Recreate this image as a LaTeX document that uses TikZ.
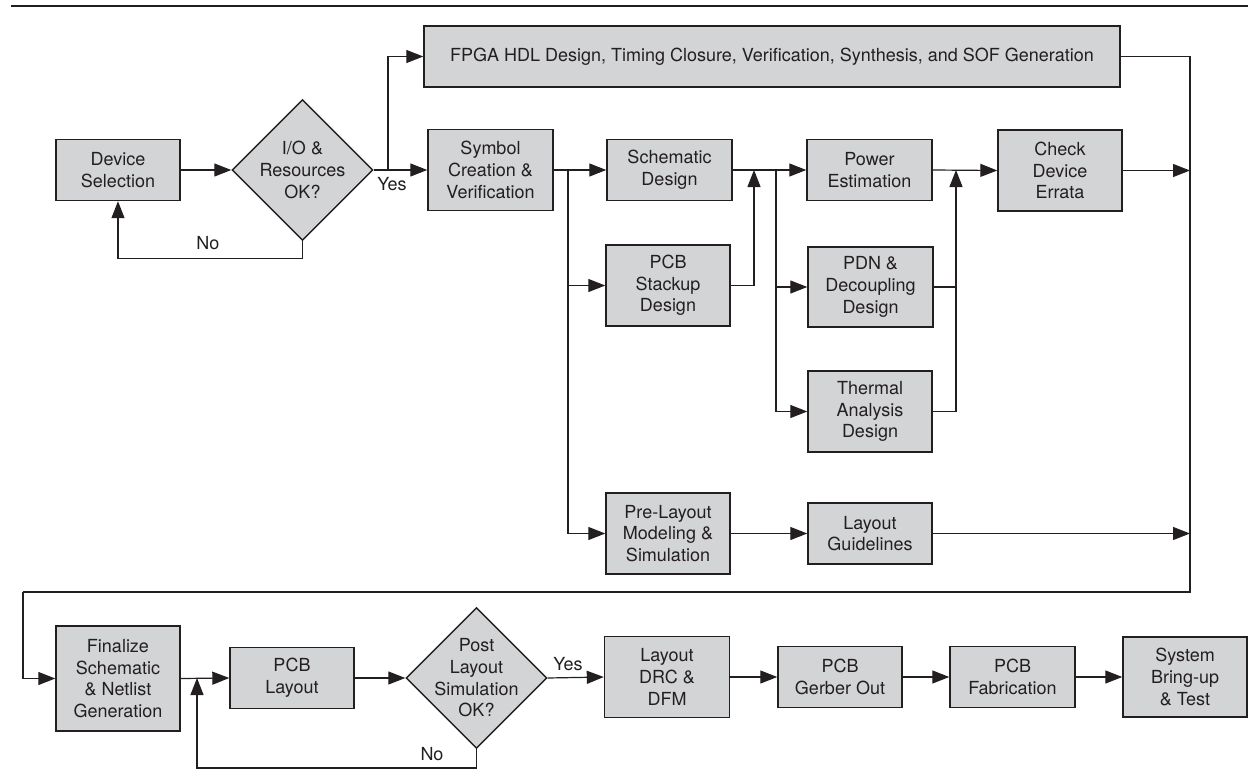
\documentclass[tikz,border=0pt]{standalone}
\usepackage{fontspec}
\setmainfont{TeX Gyre Heros}
\usetikzlibrary{arrows.meta,shapes.geometric}
\definecolor{boxfill}{RGB}{211,212,214}
\definecolor{ink}{RGB}{35,31,32}
\begin{document}
\begin{tikzpicture}[x=1pt,y=-1pt,
  txt/.style={font=\fontsize{18}{21.7}\selectfont, text=ink, align=center},
  box/.style={txt, draw=ink, fill=boxfill, line width=1.4pt, inner sep=0pt},
  dia/.style={diamond, draw=ink, fill=boxfill, line width=1.4pt, inner sep=0pt,
              minimum width=141pt, minimum height=141pt},
  conn/.style={draw=ink, line width=1.2pt},
  arr/.style={conn, -{Triangle[length=17pt,width=13pt]}},
  lbl/.style={txt, inner sep=0pt}]
\useasboundingbox (0,0) rectangle (1248,779);
\draw[ink, line width=2.5pt] (11,6) -- (1248,6);

% top section
\node[box, minimum width=124pt, minimum height=61pt] (dev) at (118,170) {Device\\Selection};
\node[dia, label={[txt]center:I/O \&\\Resources\\OK?}] (d1) at (302.5,170) {};
\node[box, minimum width=696pt, minimum height=61pt] (fpga) at (772,56.5)
  {FPGA HDL Design, Timing Closure, Verification, Synthesis, and SOF Generation};
\node[box, minimum width=125pt, minimum height=81pt] (sym) at (490.5,170) {Symbol\\Creation \&\\Verification};
\node[box, minimum width=125pt, minimum height=61pt] (sch) at (669.5,170) {Schematic\\Design};
\node[box, minimum width=124pt, minimum height=81pt] (stk) at (668,285.5) {PCB\\Stackup\\Design};
\node[box, minimum width=124pt, minimum height=81pt] (pre) at (668,533.5) {Pre-Layout\\Modeling \&\\Simulation};
\node[box, minimum width=125pt, minimum height=61pt] (pow) at (869.5,170) {Power\\Estimation};
\node[box, minimum width=125pt, minimum height=80pt] (pdn) at (870.5,287) {PDN \&\\Decoupling\\Design};
\node[box, minimum width=124pt, minimum height=81pt] (thm) at (870,411.5) {Thermal\\Analysis\\Design};
\node[box, minimum width=124pt, minimum height=61pt] (gl) at (870,533.5) {Layout\\Guidelines};
\node[box, minimum width=124pt, minimum height=81pt] (err) at (1060,170.5) {Check\\Device\\Errata};

% bottom section
\node[box, minimum width=124pt, minimum height=105pt] (fin) at (118,678.5) {Finalize\\Schematic\\\& Netlist\\Generation};
\node[box, minimum width=124pt, minimum height=61pt] (pcb) at (292,678) {PCB\\Layout};
\node[dia, label={[txt]center:Post\\Layout\\Simulation\\OK?}] (d2) at (476.5,678) {};
\node[box, minimum width=125pt, minimum height=81pt] (drc) at (667,677) {Layout\\DRC \&\\DFM};
\node[box, minimum width=124pt, minimum height=61pt] (gbr) at (840,677) {PCB\\Gerber Out};
\node[box, minimum width=125pt, minimum height=61pt] (fab) at (1012.5,677) {PCB\\Fabrication};
\node[box, minimum width=124pt, minimum height=80pt] (sys) at (1185,677) {System\\Bring-up\\\& Test};

% labels
\node[lbl] (yes1) at (392,184) {Yes};
\node[lbl] (no1) at (208,243) {No};
\node[lbl] (yes2) at (568,664) {Yes};
\node[lbl] (no2) at (432,754) {No};

% coordinates
\coordinate (b0) at (388,170);
\coordinate (b1) at (568,170);
\coordinate (m1) at (754,170);
\coordinate (b2) at (776,170);
\coordinate (m2) at (956,170);
\coordinate (rb) at (1190,592);
\coordinate (lb) at (23,592);
\coordinate (n2) at (197,768);
\coordinate (n2t) at (197,678);

% top connectors
\draw[arr] (dev) -- (d1);
\draw[arr] (d1.south) -- ++(0,17) -| (dev.south);
\draw[conn] (d1.east) -- (b0);
\draw[arr] (b0) -- (sym.west);
\draw[arr] (b0) |- (fpga.west);
\draw[arr] (sym.east) -- (sch.west);
\draw[arr] (b1) |- (stk.west);
\draw[arr] (b1) |- (pre.west);
\draw[arr] (stk.east) -| (m1);
\draw[arr] (sch.east) -- (pow.west);
\draw[arr] (b2) |- (pdn.west);
\draw[arr] (b2) |- (thm.west);
\draw[conn] (pdn.east) -- (pdn.east -| m2);
\draw[arr] (thm.east) -| (m2);
\draw[arr] (pow.east) -- (err.west);
\draw[arr] (pre.east) -- (gl.west);
\draw[arr] (err.east) -- (err.east -| rb);
\draw[arr] (gl.east) -- (gl.east -| rb);
\draw[conn] (fpga.east) -| (rb) -- (lb);
\draw[arr] (lb) |- (fin.west);

% bottom connectors
\draw[arr] (fin.east) -- (pcb.west);
\draw[arr] (pcb.east) -- (d2.west);
\draw[arr] (d2.east) -- (drc.west);
\draw[arr] (drc.east) -- (gbr.west);
\draw[arr] (gbr.east) -- (fab.west);
\draw[arr] (fab.east) -- (sys.west);
\draw[arr] (d2.south) |- (n2) -- (n2t);
\end{tikzpicture}
\end{document}
